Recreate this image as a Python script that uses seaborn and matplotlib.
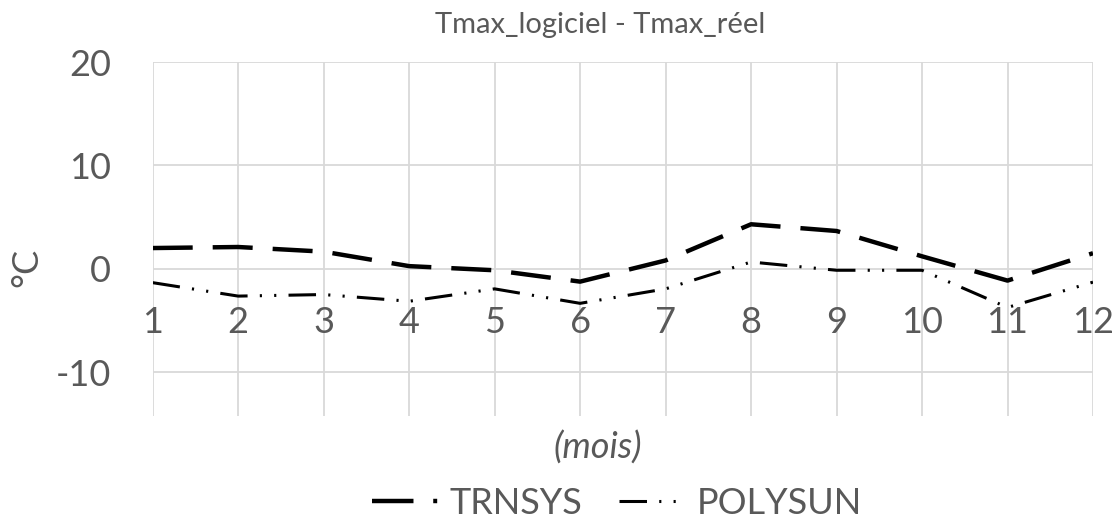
import pandas as pd
import matplotlib
matplotlib.use('Agg')
import matplotlib.pyplot as plt
from matplotlib.lines import Line2D
import seaborn as sns

# values
months = list(range(1, 13))
trnsys = [2.0, 2.1, 1.65, 0.25, -0.15, -1.25, 0.8, 4.3, 3.65, 1.2, -1.15, 1.5]
polysun = [-1.35, -2.65, -2.5, -3.15, -1.95, -3.35, -1.95, 0.65, -0.15, -0.15, -3.75, -1.3]
series_names = ['TRNSYS', 'POLYSUN']
y_ticks = [-10, 0, 10, 20]

grey = '#595959'
grid_col = '#d9d9d9'

sns.set_style('white')
plt.rcParams['font.family'] = ['Lato', 'DejaVu Sans']
plt.rcParams['axes.unicode_minus'] = False

df = pd.DataFrame({
    'mois': months * 2,
    'val': trnsys + polysun,
    'serie': [series_names[0]] * 12 + [series_names[1]] * 12,
})

fig = plt.figure(figsize=(11.17, 5.19), dpi=100)
ax = fig.add_axes([0.1367, 0.1975, 0.8418, 0.683])

# dash patterns in linewidth units
dash_map = {'TRNSYS': (9, 4.5), 'POLYSUN': (9, 4, 0.7, 4, 0.7, 4)}
lw_map = {'TRNSYS': 3.2, 'POLYSUN': 2.2}
for name in series_names:
    sub = df[df['serie'] == name]
    sns.lineplot(data=sub, x='mois', y='val', ax=ax, color='black',
                 lw=lw_map[name], style='serie', dashes={name: dash_map[name]},
                 legend=False)

ax.set_xlim(1, 12)
ax.set_ylim(-14.3, 20)
ax.set_xticks(months)
ax.set_yticks(y_ticks)
ax.grid(True, color=grid_col, lw=1.3)
ax.set_axisbelow(True)
for s in ['top', 'right', 'left']:
    ax.spines[s].set_visible(False)
ax.spines['bottom'].set_position(('data', 0))
ax.spines['bottom'].set_visible(False)
ax.tick_params(axis='x', length=0, pad=27, labelsize=26, labelcolor=grey)
ax.tick_params(axis='y', length=0, pad=30, labelsize=26, labelcolor=grey)
ax.set_xlabel('')
ax.set_ylabel('')

fig.text(600 / 1117, 1 - 25 / 519, 'Tmax_logiciel - Tmax_réel', ha='center', va='center',
         fontsize=21, color=grey)
fig.text(598 / 1117, 1 - 448 / 519, '(mois)', ha='center', va='center',
         fontsize=26, color=grey, style='italic')
fig.text(27 / 1117, 1 - 267 / 519, '°C', ha='center', va='center',
         fontsize=26, color=grey, rotation=90)

handles = [
    Line2D([], [], color='black', lw=3.2, dashes=(42 / 4.5, 20 / 4.5, 4 / 4.5, 50)),
    Line2D([], [], color='black', lw=2.2, dashes=(9, 4, 0.7, 4, 0.7, 30)),
]
fig.legend(handles, series_names, loc='center', bbox_to_anchor=(617 / 1117, 1 - 503 / 519),
           ncol=2, frameon=False, handlelength=1.86, handletextpad=0.3,
           columnspacing=1.0, fontsize=26, labelcolor=grey)

fig.savefig('out.png', dpi=100)
